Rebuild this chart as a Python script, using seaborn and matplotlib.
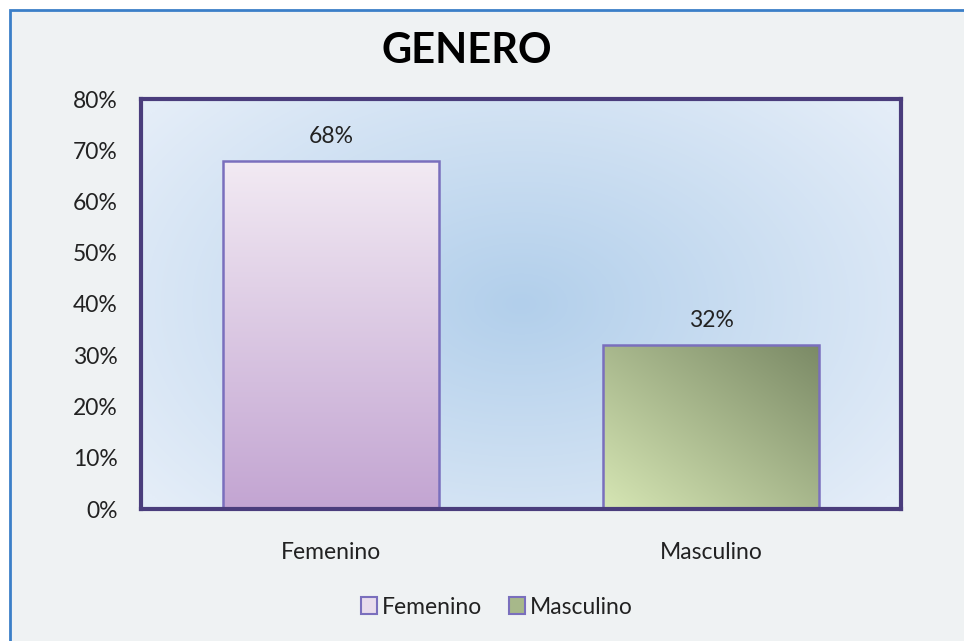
import numpy as np
import pandas as pd
import matplotlib
matplotlib.use("Agg")
import matplotlib.pyplot as plt
import seaborn as sns
from matplotlib.patches import Rectangle, Patch
from matplotlib.colors import to_rgb

# ---- data ----
categories = ["Femenino", "Masculino"]
values = [0.68, 0.32]
value_labels = ["68%", "32%"]
y_ticks = [0, 0.1, 0.2, 0.3, 0.4, 0.5, 0.6, 0.7, 0.8]
y_tick_labels = ["0%", "10%", "20%", "30%", "40%", "50%", "60%", "70%", "80%"]
title = "GENERO"

sns.set_theme(style="white")
plt.rcParams['font.family'] = ['Lato', 'DejaVu Sans']

FS = 16.5

fig = plt.figure(figsize=(9.64, 6.41), dpi=100)
fig.patch.set_facecolor("white")
# outer chart-area frame
fig.patches.append(Rectangle((10/964, -0.05), 1.2, (641-10)/641 + 0.05,
                             transform=fig.transFigure, facecolor="#eff2f3",
                             edgecolor="#3b7fc8", linewidth=2.0, zorder=-5))

ax = fig.add_axes([141/964, (641-509)/641, 760/964, 410/641])
ax.set_zorder(1)

df = pd.DataFrame({"cat": categories, "val": values})
sns.barplot(data=df, x="cat", y="val", hue="cat", ax=ax, width=0.57,
            palette=["#dccbe3", "#a9b98a"], legend=False,
            edgecolor="#7a6fbd", linewidth=1.8, saturation=1)

ax.set_xlim(-0.5, 1.5)
ax.set_ylim(0, 0.8)

# plot-area radial gradient
ny, nx = 200, 300
xx, yy = np.meshgrid(np.linspace(0, 1, nx), np.linspace(0, 1, ny))
r = np.sqrt(((xx - 0.50) / 0.62) ** 2 + ((yy - 0.50) / 0.75) ** 2)
r = np.clip(r, 0, 1)
c_in = np.array(to_rgb("#b2cfeb"))
c_out = np.array(to_rgb("#e4edf8"))
bg = c_in[None, None, :] * (1 - r[..., None]) + c_out[None, None, :] * r[..., None]
ax.imshow(bg, extent=(0, 1, 0, 1), transform=ax.transAxes, aspect="auto",
          origin="lower", zorder=0, interpolation="bilinear")
ax.set_xlim(-0.5, 1.5)
ax.set_ylim(0, 0.8)

# bar gradients clipped to the seaborn bars
def vert_grad(top, bottom):
    t = np.linspace(0, 1, 100)[:, None, None]
    a = np.array(to_rgb(bottom)); b = np.array(to_rgb(top))
    return (a * (1 - t) + b * t) * np.ones((100, 2, 3))

def diag_grad(bl, tr):
    gx, gy = np.meshgrid(np.linspace(0, 1, 100), np.linspace(0, 1, 100))
    t = ((gx + gy) / 2)[..., None]
    a = np.array(to_rgb(bl)); b = np.array(to_rgb(tr))
    return a * (1 - t) + b * t

grads = [vert_grad("#f2eaf3", "#c3a5d2"), diag_grad("#d6e6b4", "#7b8a66")]
for patch, g in zip(ax.patches, grads):
    x0 = patch.get_x(); w = patch.get_width(); h = patch.get_height()
    im = ax.imshow(g, extent=(x0, x0 + w, 0, h), origin="lower", aspect="auto",
                   zorder=patch.get_zorder() - 0.05, interpolation="bilinear")
    im.set_clip_path(patch)
    patch.set_facecolor("none")
ax.set_xlim(-0.5, 1.5)
ax.set_ylim(0, 0.8)

# value labels
for i, (v, lab) in enumerate(zip(values, value_labels)):
    ax.annotate(lab, (i, v), xytext=(0, 10), textcoords="offset points",
                ha="center", va="bottom", fontsize=FS, color="#222222")

ax.set_yticks(y_ticks)
ax.set_yticklabels(y_tick_labels)
ax.tick_params(axis="y", length=0, pad=17, labelsize=FS, labelcolor="#222222")
ax.tick_params(axis="x", length=0, pad=24, labelsize=FS, labelcolor="#222222")
ax.set_xlabel("")
ax.set_ylabel("")

for s in ax.spines.values():
    s.set_visible(True)
    s.set_color("#4a3d7c")
    s.set_linewidth(3)
    s.set_zorder(5)

fig.text(467/964, 1 - 51/641, title, ha="center", va="center",
         fontsize=30, fontweight="bold", color="black")

handles = [Patch(facecolor="#e8dcec", edgecolor="#7a6fbd", linewidth=1.5),
           Patch(facecolor="#a7b88a", edgecolor="#7a6fbd", linewidth=1.5)]
fig.legend(handles, categories, loc="center", bbox_to_anchor=(497/964, 1 - 607/641),
           ncol=2, frameon=False, fontsize=FS, handlelength=0.7, handleheight=0.7,
           handletextpad=0.2, columnspacing=1.2, labelcolor="#222222")

fig.savefig("out.png", dpi=100, facecolor=fig.get_facecolor())
